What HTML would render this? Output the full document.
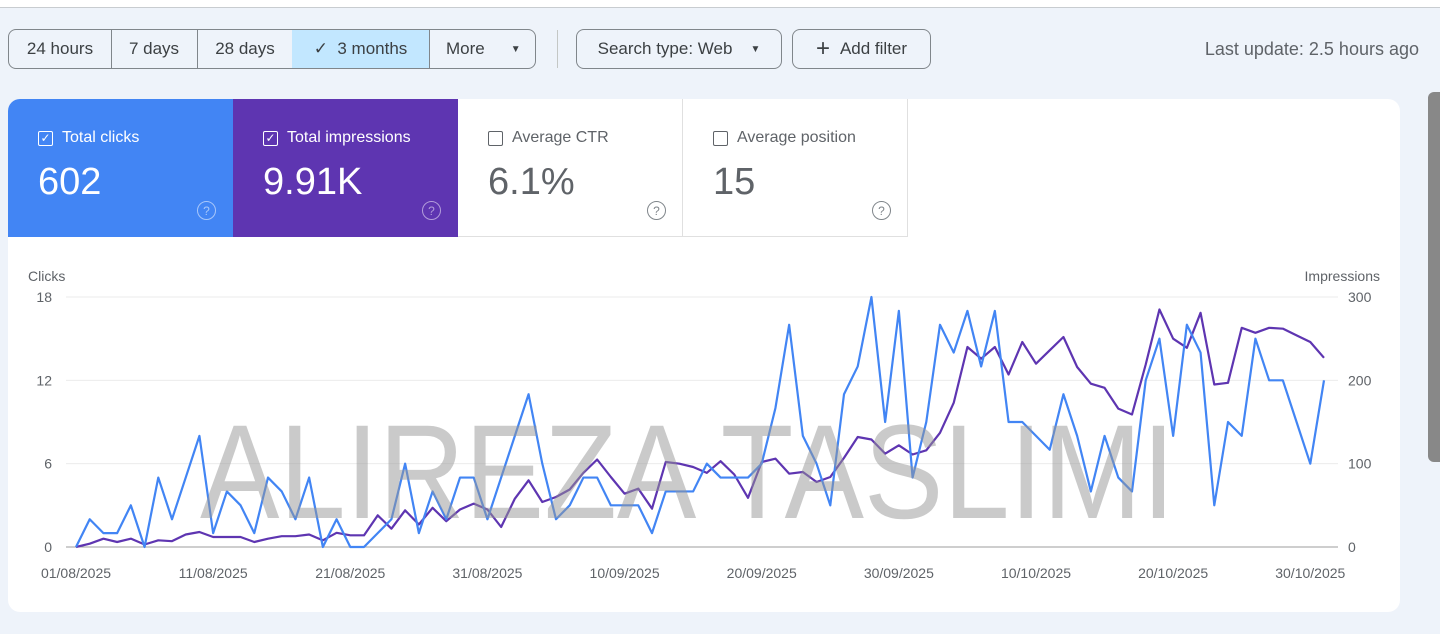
<!DOCTYPE html>
<html><head><meta charset="utf-8"><style>
*{box-sizing:border-box;margin:0;padding:0}
body{width:1440px;height:634px;background:#eef3fa;font-family:"Liberation Sans",sans-serif;position:relative;overflow:hidden;color:#3c4043}
.abs{position:absolute}
.seg{position:absolute;top:29px;height:40px;border:1px solid #80868b;display:flex;align-items:center;justify-content:center;font-size:17px;color:#3c4043;background:transparent}
.card{position:absolute;top:99px;height:138px;width:225px}
.card .t{position:absolute;left:30px;top:30px;font-size:16px;display:flex;align-items:center}
.cb{width:15px;height:15px;border:1.5px solid #fff;border-radius:2px;margin-right:9px;display:inline-flex;align-items:center;justify-content:center;font-size:12px}
.card .v{position:absolute;left:30px;top:62px;font-size:38px}
.q{position:absolute;left:189px;top:102px;width:19px;height:19px;border:1.5px solid;border-radius:50%;font-size:12px;display:flex;align-items:center;justify-content:center}
</style></head><body>
<div class="abs" style="left:0;top:0;width:1440px;height:8px;background:#fff;border-bottom:1px solid #c8ccd0"></div>
<div class="seg" style="left:8px;width:104px;border-radius:8px 0 0 8px">24 hours</div>
<div class="seg" style="left:111px;width:87px;border-left:none">7 days</div>
<div class="seg" style="left:197px;width:96px">28 days</div>
<div class="seg" style="left:292px;width:138px;background:#c2e7ff;border-left:none">✓&nbsp;&nbsp;3 months</div>
<div class="seg" style="left:429px;width:107px;border-radius:0 8px 8px 0;justify-content:flex-start;padding-left:16px">More<span style="font-size:10px;margin-left:26px">▼</span></div>
<div class="abs" style="left:557px;top:30px;width:1px;height:38px;background:#c4c7c5"></div>
<div class="seg" style="left:576px;width:206px;border-radius:8px">Search type: Web<span style="font-size:10px;margin-left:18px">▼</span></div>
<div class="seg" style="left:792px;width:139px;border-radius:8px"><span style="font-size:24px;margin-right:10px;font-weight:300">+</span>Add filter</div>
<div class="abs" style="right:21px;top:39px;font-size:18px;color:#5f6368">Last update: 2.5 hours ago</div>
<div class="abs" style="left:1428px;top:92px;width:12px;height:370px;background:#888;border-radius:6px 0 0 6px"></div>
<div class="abs" style="left:8px;top:99px;width:1392px;height:513px;background:#fff;border-radius:12px"></div>
<div class="card" style="left:8px;background:#4285f4;color:#fff;border-radius:12px 0 0 0"><div class="t"><span class="cb">✓</span>Total clicks</div><div class="v">602</div><div class="q" style="border-color:#a8c7fa;color:#a8c7fa">?</div></div>
<div class="card" style="left:233px;background:#5e35b1;color:#fff"><div class="t"><span class="cb">✓</span>Total impressions</div><div class="v">9.91K</div><div class="q" style="border-color:#b39ddb;color:#b39ddb">?</div></div>
<div class="card" style="left:458px;color:#5f6368;border-right:1px solid #e0e0e0;border-bottom:1px solid #e0e0e0"><div class="t"><span class="cb" style="border-color:#5f6368"></span>Average CTR</div><div class="v">6.1%</div><div class="q" style="border-color:#80868b;color:#80868b">?</div></div>
<div class="card" style="left:683px;color:#5f6368;border-right:1px solid #e0e0e0;border-bottom:1px solid #e0e0e0"><div class="t"><span class="cb" style="border-color:#5f6368"></span>Average position</div><div class="v">15</div><div class="q" style="border-color:#80868b;color:#80868b">?</div></div>
<svg class="abs" style="left:0;top:0" width="1440" height="634" id="chart"></svg>
<script>
const clicks=[0,2,1,1,3,0,5,2,5,8,1,4,3,1,5,4,2,5,0,2,0,0,1,2,6,1,4,2,5,5,2,5,8,11,6,2,3,5,5,3,3,3,1,4,4,4,6,5,5,5,6,10,16,8,6,3,11,13,18,9,17,5,9,16,14,17,13,17,9,9,8,7,11,8,4,8,5,4,12,15,8,16,14,3,9,8,15,12,12,9,6,12];
const impressions=[0,4,10,6,10,3,8,7,15,18,12,12,12,6,10,13,13,15,8,17,14,14,38,22,44,27,47,31,45,52,45,24,58,80,54,60,69,89,105,84,64,70,46,102,100,96,89,103,87,59,102,106,88,90,78,84,107,132,129,112,122,111,116,137,173,240,226,240,207,246,220,236,252,216,196,191,166,159,219,285,250,239,281,195,197,263,257,263,262,254,246,227];
const clickTicks=[0,6,12,18];
const imprTicks=[0,100,200,300];
const dateLabels=["01/08/2025","11/08/2025","21/08/2025","31/08/2025","10/09/2025","20/09/2025","30/09/2025","10/10/2025","20/10/2025","30/10/2025"];
const dateIdx=[0,10,20,30,40,50,60,70,80,90];
const svg=document.getElementById('chart');const NS='http://www.w3.org/2000/svg';
const X0=76,X1=1324,Y0=547,Y1=297;
const x=i=>X0+(X1-X0)*i/(clicks.length-1);
const yc=v=>Y0-(Y0-Y1)*v/18;
const yi=v=>Y0-(Y0-Y1)*v/300;
function mk(t,a,txt){const e=document.createElementNS(NS,t);for(const k in a)e.setAttribute(k,a[k]);if(txt!==undefined)e.textContent=txt;svg.appendChild(e);return e;}
clickTicks.forEach((v,k)=>{
const g=mk('line',{x1:66,x2:1338,y1:yc(v),y2:yc(v),stroke:v?'#ebebeb':'#9e9e9e','stroke-width':1});


const t=mk('text',{x:52,y:yc(v)+5,'text-anchor':'end','font-size':14,fill:'#5f6368'},v);


const t2=mk('text',{x:1348,y:yi(imprTicks[k])+5,'font-size':14,fill:'#5f6368'},imprTicks[k]);


});
dateLabels.forEach((d,k)=>{const t=mk('text',{x:x(dateIdx[k]),y:578,'text-anchor':'middle','font-size':14,fill:'#5f6368'},d);

});
const a1=mk('text',{x:28,y:281,'font-size':14,fill:'#5f6368'},'Clicks');


const a2=mk('text',{x:1380,y:281,'text-anchor':'end','font-size':14,fill:'#5f6368'},'Impressions');


const p1=mk('polyline',{points:impressions.map((v,i)=>x(i)+','+yi(v)).join(' '),fill:'none',stroke:'#5e35b1','stroke-width':2.2,'stroke-linejoin':'round'});


const p2=mk('polyline',{points:clicks.map((v,i)=>x(i)+','+yc(v)).join(' '),fill:'none',stroke:'#4285f4','stroke-width':2.2,'stroke-linejoin':'round'});


const w=mk('text',{x:200,y:518,'font-size':134,fill:'rgba(150,150,150,0.5)',textLength:975,lengthAdjust:'spacingAndGlyphs'},'ALIREZA TASLIMI');


</script>
</body></html>
